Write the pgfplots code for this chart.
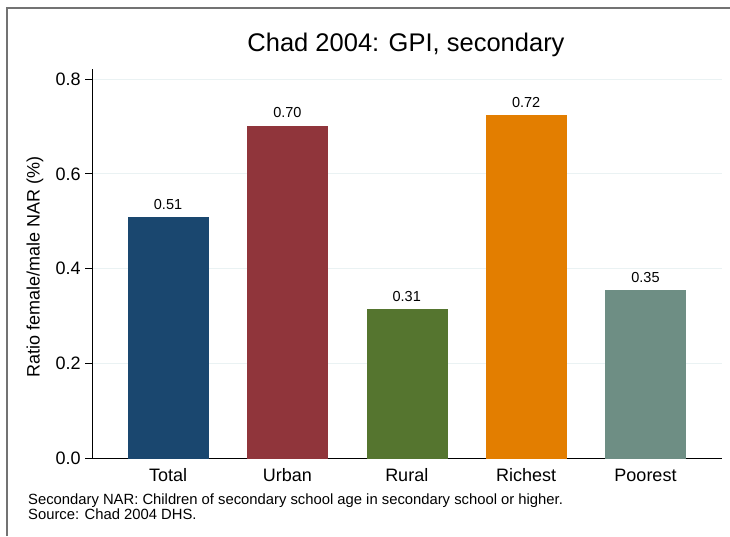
\documentclass[border=0pt]{standalone}
\usepackage{fontspec}
\setmainfont{Liberation Sans}
\usepackage{pgfplots}
\pgfplotsset{compat=1.18}
\definecolor{cTotal}{HTML}{1A476F}
\definecolor{cUrban}{HTML}{90353B}
\definecolor{cRural}{HTML}{55752F}
\definecolor{cRich}{HTML}{E37E00}
\definecolor{cPoor}{HTML}{6E8E84}
\definecolor{gridc}{HTML}{EAF2F3}
\begin{document}
\begin{tikzpicture}[x=1pt,y=1pt]
\path[use as bounding box] (0,0) rectangle (730,536);
\draw[black!55, line width=1.3pt] (7,0) -- (7,528) -- (730,528);
\begin{axis}[
  at={(92.7pt,77.5pt)}, anchor=south west,
  scale only axis, width=629.3pt, height=389.5pt,
  xmin=-0.631, xmax=4.641, ymin=0, ymax=0.821,
  ybar, bar width=0.67,
  axis lines=left, axis line style={-, black, line width=0.9pt},
  xtick={0,1,2,3,4},
  xticklabels={Total,Urban,Rural,Richest,Poorest},
  x tick style={draw=none},
  ytick={0,0.2,0.4,0.6,0.8},
  y tick style={black, line width=0.9pt},
  tick align=outside, major tick length=7.5pt,
  ymajorgrids, grid style={gridc, line width=0.9pt},
  yticklabel style={/pgf/number format/fixed, /pgf/number format/fixed zerofill, /pgf/number format/precision=1, /pgf/number format/assume math mode=true, xshift=-1pt},
  ticklabel style={font=\fontsize{18}{21}\selectfont},
  xticklabel style={anchor=base, yshift=-15pt},
  nodes near coords,
  nodes near coords style={font=\fontsize{14.5}{16}\selectfont, yshift=4.5pt, /pgf/number format/fixed, /pgf/number format/fixed zerofill, /pgf/number format/precision=2, /pgf/number format/assume math mode=true},
  clip=false,
]
\addplot[fill=cTotal, draw=cTotal, bar shift=0pt] coordinates {(0,0.508)};
\addplot[fill=cUrban, draw=cUrban, bar shift=0pt] coordinates {(1,0.701)};
\addplot[fill=cRural, draw=cRural, bar shift=0pt] coordinates {(2,0.314)};
\addplot[fill=cRich, draw=cRich, bar shift=0pt] coordinates {(3,0.723)};
\addplot[fill=cPoor, draw=cPoor, bar shift=0pt] coordinates {(4,0.354)};
\end{axis}
\node[anchor=base, font=\fontsize{25.5}{28}\selectfont] at (406,484.3) {Chad 2004: GPI, secondary};
\node[rotate=90, font=\fontsize{18}{21}\selectfont] at (35,269) {Ratio female/male NAR (\%)};
\node[anchor=base west, font=\fontsize{14.8}{16}\selectfont, inner sep=0pt] at (28,31.7) {Secondary NAR: Children of secondary school age in secondary school or higher.};
\node[anchor=base west, font=\fontsize{14.8}{16}\selectfont, inner sep=0pt] at (28,16.7) {Source: Chad 2004 DHS.};
\end{tikzpicture}
\end{document}
